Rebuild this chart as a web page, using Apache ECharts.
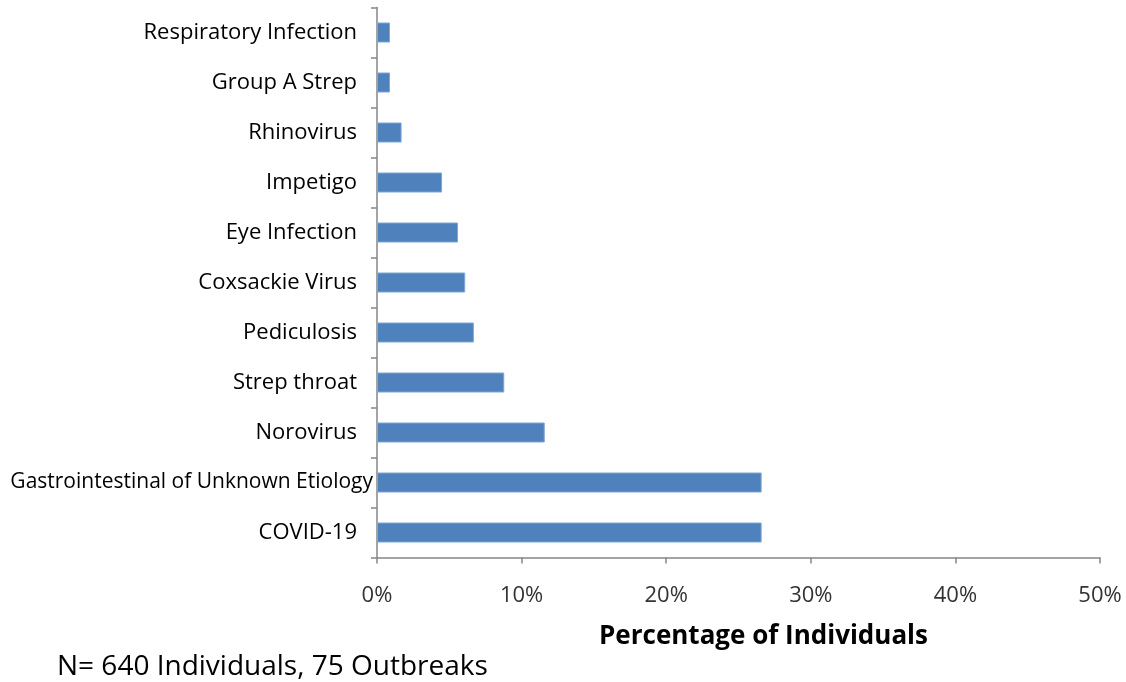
<!DOCTYPE html>
<html>
<head>
<meta charset="utf-8">
<script src="https://cdn.jsdelivr.net/npm/echarts@6/dist/echarts.min.js"></script>
<style>
html,body{margin:0;padding:0;background:#fff;}
#chart{width:1126px;height:682px;}
</style>
</head>
<body>
<div id="chart"></div>
<script>
// Categories from bottom to top
var categories = ['COVID-19', 'Gastrointestinal of Unknown Etiology', 'Norovirus', 'Strep throat', 'Pediculosis', 'Coxsackie Virus', 'Eye Infection', 'Impetigo', 'Rhinovirus', 'Group A Strep', 'Respiratory Infection'];
var percentValues = [26.6, 26.6, 11.6, 8.8, 6.7, 6.1, 5.6, 4.5, 1.7, 0.9, 0.9];
var xTicks = [0, 10, 20, 30, 40, 50];
var axisTitle = 'Percentage of Individuals';
var footnote = 'N= 640 Individuals, 75 Outbreaks';

var FONT = 'Open Sans';
var chart = echarts.init(document.getElementById('chart'), null, {renderer: 'canvas'});
chart.setOption({
  animation: false,
  backgroundColor: '#ffffff',
  grid: {left: 377, right: 26, top: 7.5, bottom: 124.5, containLabel: false},
  xAxis: {
    type: 'value',
    min: xTicks[0],
    max: xTicks[xTicks.length - 1],
    interval: 10,
    splitLine: {show: false},
    axisLine: {show: true, lineStyle: {color: '#868686', width: 1.5}},
    axisTick: {show: true, length: 6, lineStyle: {color: '#868686', width: 1.5}},
    axisLabel: {formatter: '{value}%', color: '#333', fontFamily: FONT, fontSize: 22, margin: 27},
    name: axisTitle,
    nameLocation: 'middle',
    nameGap: 66,
    nameTextStyle: {color: '#000', fontFamily: FONT, fontSize: 26, fontWeight: 'bold', padding: [0, 0, 0, 50]}
  },
  yAxis: {
    type: 'category',
    data: categories,
    axisLine: {show: true, lineStyle: {color: '#868686', width: 1.5}},
    axisTick: {show: true, length: 6, lineStyle: {color: '#868686', width: 1.5}},
    axisLabel: {
      color: '#000', fontFamily: FONT, fontSize: 22, margin: 20,
      formatter: function (v) { return v.length > 30 ? '{wide|' + v + '}' : v; },
      rich: {wide: {color: '#000', fontFamily: FONT, fontSize: 21, padding: [0, -16, 0, 0]}}
    }
  },
  series: [{
    type: 'bar',
    data: percentValues,
    barCategoryGap: '60%',
    itemStyle: {color: '#4F81BD', borderColor: '#7EA6D6', borderWidth: 1}
  }],
  graphic: [{
    type: 'text',
    left: 57,
    top: 653,
    style: {text: footnote, fill: '#000', font: '28px "' + FONT + '"'}
  }]
});
</script>
</body>
</html>
